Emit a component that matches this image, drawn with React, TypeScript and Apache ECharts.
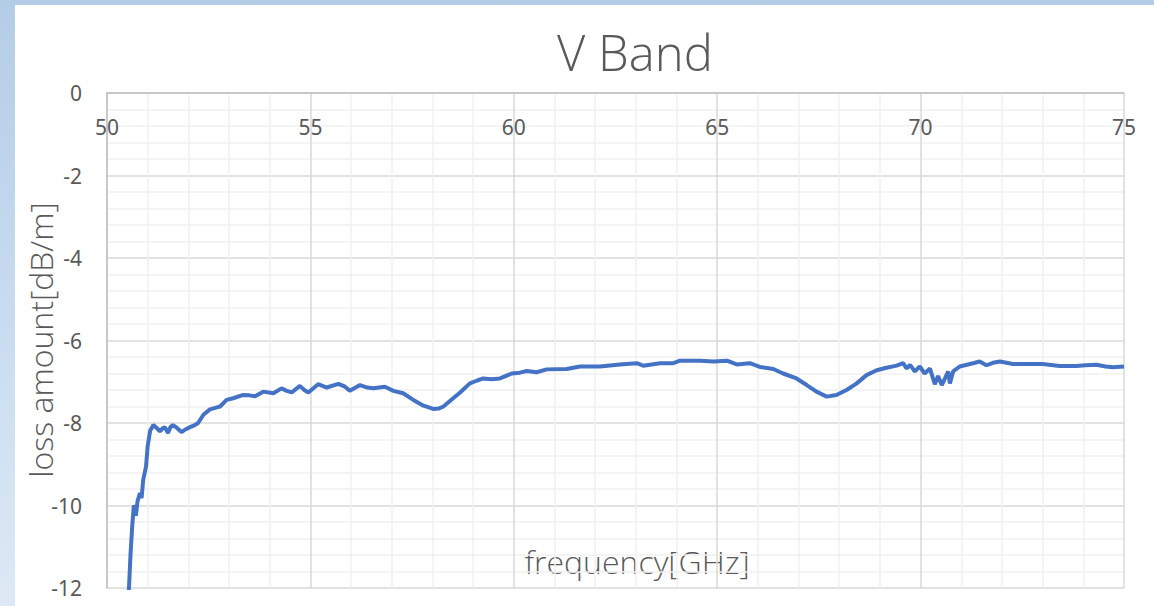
import React, { useEffect, useRef } from "react";
import * as echarts from "echarts";

const titleText = "V Band";
const xAxisName = "frequency[GHz]";
const yAxisName = "loss amount[dB/m]";

const frequency = [
  50.5, 50.54, 50.58, 50.62, 50.66, 50.69, 50.71, 50.75, 50.81, 50.85, 50.89, 50.96, 51.0, 51.06, 51.14,
  51.22, 51.3, 51.36, 51.42, 51.5, 51.56, 51.62, 51.72, 51.83, 51.94, 52.04, 52.16, 52.24, 52.37, 52.53,
  52.7, 52.78, 52.94, 53.1, 53.35, 53.5, 53.64, 53.84, 54.09, 54.29, 54.42, 54.54, 54.74, 54.85, 54.95,
  55.19, 55.4, 55.69, 55.85, 55.97, 56.22, 56.4, 56.55, 56.83, 57.04, 57.28, 57.53, 57.78, 58.02, 58.15,
  58.27, 58.51, 58.68, 58.92, 59.1, 59.25, 59.45, 59.66, 59.95, 60.15, 60.32, 60.56, 60.81, 61.3, 61.63,
  62.12, 62.61, 63.02, 63.18, 63.6, 63.92, 64.09, 64.58, 64.91, 65.24, 65.48, 65.8, 66.05, 66.38, 66.62,
  66.95, 67.2, 67.44, 67.69, 67.93, 68.18, 68.43, 68.67, 68.92, 69.16, 69.41, 69.57, 69.66, 69.74, 69.86,
  69.98, 70.1, 70.23, 70.35, 70.43, 70.52, 70.6, 70.68, 70.72, 70.8, 70.96, 71.29, 71.45, 71.62, 71.78,
  71.95, 72.27, 72.6, 73.0, 73.42, 73.83, 74.05, 74.32, 74.55, 74.73, 75.0,
];

const lossAmount = [
  -12.8, -12.0, -11.15, -10.5, -10.0, -10.05, -10.25, -9.9, -9.7, -9.82, -9.38, -9.05, -8.56, -8.19, -8.05,
  -8.12, -8.2, -8.14, -8.1, -8.24, -8.1, -8.05, -8.12, -8.22, -8.15, -8.1, -8.05, -8.0, -7.8, -7.67,
  -7.62, -7.6, -7.44, -7.4, -7.32, -7.33, -7.35, -7.24, -7.28, -7.16, -7.22, -7.26, -7.1, -7.2, -7.26,
  -7.06, -7.14, -7.05, -7.12, -7.22, -7.08, -7.14, -7.16, -7.12, -7.22, -7.28, -7.44, -7.58, -7.66, -7.65,
  -7.6, -7.4, -7.26, -7.04, -6.97, -6.92, -6.94, -6.92, -6.8, -6.78, -6.74, -6.77, -6.7, -6.69, -6.63,
  -6.63, -6.58, -6.55, -6.61, -6.55, -6.55, -6.49, -6.49, -6.51, -6.49, -6.58, -6.55, -6.64, -6.69, -6.8,
  -6.92, -7.08, -7.24, -7.36, -7.32, -7.2, -7.04, -6.84, -6.72, -6.66, -6.61, -6.55, -6.68, -6.59, -6.75,
  -6.63, -6.8, -6.68, -7.06, -6.86, -7.08, -6.92, -6.75, -7.04, -6.75, -6.63, -6.55, -6.51, -6.6, -6.54,
  -6.51, -6.57, -6.57, -6.57, -6.62, -6.62, -6.6, -6.59, -6.63, -6.65, -6.63,
];

const textColor = "#595959";
const fontFamily = "'Noto Sans', 'DejaVu Sans', sans-serif";
const lightFamily = "'Open Sans', 'Noto Sans', sans-serif";

export default function App() {
  const ref = useRef<HTMLDivElement>(null);

  useEffect(() => {
    if (!ref.current) return;
    const chart = echarts.init(ref.current, null, { renderer: "svg" });
    const data = frequency.map((f, i) => [f, lossAmount[i]]);
    chart.setOption({
      animation: false,
      backgroundColor: "#ffffff",
      grid: { left: 92, right: 30, top: 88, bottom: 18, containLabel: false },
      xAxis: {
        type: "value",
        position: "top",
        min: 50,
        max: 75,
        interval: 5,
        axisLine: { show: true, onZero: false, lineStyle: { color: "#bfbfbf", width: 1.5 } },
        axisTick: { show: false },
        axisLabel: {
          inside: true,
          margin: 23,
          color: textColor,
          fontSize: 21,
          fontFamily,
          showMinLabel: true,
          showMaxLabel: true,
        },
        splitLine: { show: true, lineStyle: { color: "#d9d9d9", width: 1.5 } },
        minorTick: { show: false, splitNumber: 5 },
        minorSplitLine: { show: true, lineStyle: { color: "#f0f0f0", width: 1.5 } },
      },
      yAxis: {
        type: "value",
        min: -12,
        max: 0,
        interval: 2,
        axisLine: { show: true, onZero: false, lineStyle: { color: "#bfbfbf", width: 1.5 } },
        axisTick: { show: false },
        axisLabel: { margin: 25, color: textColor, fontSize: 21, fontFamily },
        splitLine: { show: true, lineStyle: { color: "#d9d9d9", width: 1.5 } },
        minorTick: { show: false, splitNumber: 5 },
        minorSplitLine: { show: true, lineStyle: { color: "#f0f0f0", width: 1.5 } },
      },
      graphic: [
        {
          type: "text",
          x: 620,
          y: 47,
          style: {
            text: titleText,
            fill: textColor,
            font: `300 49px ${lightFamily}`,
            align: "center",
            verticalAlign: "middle",
          },
        },
        {
          type: "text",
          x: 622,
          y: 556,
          style: {
            text: xAxisName,
            fill: textColor,
            font: `300 32px ${lightFamily}`,
            align: "center",
            verticalAlign: "middle",
          },
        },
        {
          type: "text",
          x: 25,
          y: 335,
          rotation: Math.PI / 2,
          style: {
            text: yAxisName,
            fill: textColor,
            font: `300 32px ${lightFamily}`,
            align: "center",
            verticalAlign: "middle",
          },
        },
      ],
      series: [
        {
          type: "line",
          data,
          showSymbol: false,
          symbol: "none",
          clip: true,
          lineStyle: { color: "#4472c4", width: 4 },
          z: 5,
        },
      ],
    });
    return () => chart.dispose();
  }, []);

  return (
    <div
      style={{
        position: "fixed",
        left: 0,
        top: 0,
        width: 1154,
        height: 606,
        background: "linear-gradient(180deg, #b4cde6 0%, #c8dbef 50%, #dde9f5 100%)",
        overflow: "hidden",
      }}
    >
      <div
        ref={ref}
        style={{ position: "absolute", left: 15, top: 5, width: 1139, height: 601, background: "#ffffff" }}
      />
    </div>
  );
}
